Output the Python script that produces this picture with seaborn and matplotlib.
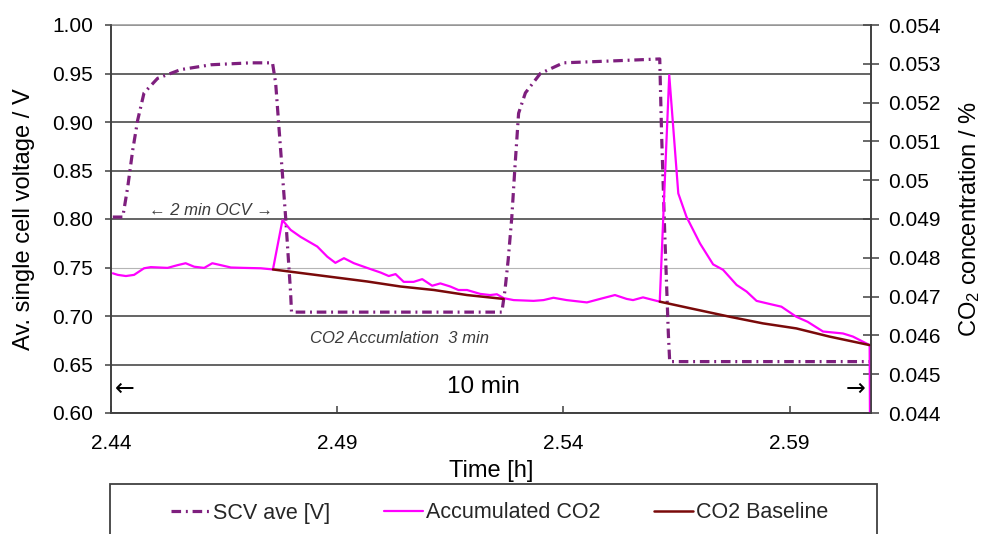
import numpy as np
import pandas as pd
import matplotlib
matplotlib.use("Agg")
import matplotlib.pyplot as plt
import seaborn as sns
from matplotlib.patches import Rectangle
from matplotlib.lines import Line2D

# ---------------- data ----------------
scv_time = [2.4404, 2.4426, 2.4437, 2.4448, 2.4459, 2.4473, 2.4503, 2.4554, 2.4621,
            2.4709, 2.4757, 2.4764, 2.4775, 2.4786, 2.4797, 2.4799, 2.5264, 2.5271,
            2.5278, 2.5286, 2.5293, 2.5301, 2.5316, 2.5349, 2.5400, 2.5510, 2.5613,
            2.5617, 2.5624, 2.5632, 2.5635, 2.6077]
scv_volt = [0.802, 0.802, 0.833, 0.871, 0.902, 0.930, 0.945, 0.954, 0.959,
            0.961, 0.961, 0.940, 0.871, 0.802, 0.724, 0.704, 0.704, 0.727,
            0.758, 0.802, 0.854, 0.909, 0.930, 0.950, 0.961, 0.963, 0.965,
            0.889, 0.786, 0.682, 0.653, 0.653]

co2_time = [2.4404, 2.4415, 2.4433, 2.4451, 2.4473, 2.4488, 2.4525, 2.4547, 2.4565,
            2.4584, 2.4606, 2.4624, 2.4643, 2.4665, 2.4694, 2.4731, 2.4758, 2.4779,
            2.4797, 2.4819, 2.4856, 2.4878, 2.4896, 2.4915, 2.4937, 2.4966, 2.4996,
            2.5014, 2.5029, 2.5047, 2.5069, 2.5088, 2.5110, 2.5128, 2.5150, 2.5168,
            2.5187, 2.5216, 2.5238, 2.5253, 2.5268, 2.5290, 2.5334, 2.5356, 2.5378,
            2.5407, 2.5452, 2.5481, 2.5514, 2.5540, 2.5554, 2.5576, 2.5613, 2.5634,
            2.5654, 2.5672, 2.5702, 2.5731, 2.5753, 2.5783, 2.5805, 2.5827, 2.5856,
            2.5882, 2.5915, 2.5940, 2.5974, 2.6018, 2.6040, 2.6077, 2.6078]
co2_conc = [0.04760, 0.04756, 0.04753, 0.04756, 0.04773, 0.04776, 0.04774, 0.04781, 0.04786,
            0.04777, 0.04774, 0.04786, 0.04781, 0.04775, 0.04774, 0.04773, 0.04770, 0.04897,
            0.04872, 0.04854, 0.04829, 0.04803, 0.04787, 0.04799, 0.04786, 0.04774, 0.04762,
            0.04753, 0.04758, 0.04738, 0.04738, 0.04745, 0.04728, 0.04734, 0.04726, 0.04717,
            0.04717, 0.04707, 0.04704, 0.04706, 0.04696, 0.04691, 0.04689, 0.04691, 0.04697,
            0.04691, 0.04685, 0.04694, 0.04704, 0.04694, 0.04691, 0.04698, 0.04687, 0.05271,
            0.04966, 0.04906, 0.04837, 0.04783, 0.04769, 0.04730, 0.04713, 0.04689, 0.04681,
            0.04674, 0.04648, 0.04635, 0.04610, 0.04605, 0.04597, 0.04575, 0.04300]

base1_time = [2.4758, 2.4966, 2.5040, 2.5114, 2.5187, 2.5268]
base1_conc = [0.04770, 0.04739, 0.04726, 0.04717, 0.04704, 0.04694]
base2_time = [2.5613, 2.5680, 2.5768, 2.5841, 2.5915, 2.5988, 2.6077]
base2_conc = [0.04687, 0.04670, 0.04648, 0.04631, 0.04618, 0.04597, 0.04575]

x_ticks = [2.44, 2.49, 2.54, 2.59]
x_tick_labels = ["2.44", "2.49", "2.54", "2.59"]
left_ticks = [0.60, 0.65, 0.70, 0.75, 0.80, 0.85, 0.90, 0.95, 1.00]
left_tick_labels = ["0.60", "0.65", "0.70", "0.75", "0.80", "0.85", "0.90", "0.95", "1.00"]
right_ticks = [0.044, 0.045, 0.046, 0.047, 0.048, 0.049, 0.050, 0.051, 0.052, 0.053, 0.054]
right_tick_labels = ["0.044", "0.045", "0.046", "0.047", "0.048", "0.049", "0.05",
                     "0.051", "0.052", "0.053", "0.054"]

series_names = ["SCV ave [V]", "Accumulated CO2", "CO2 Baseline"]

# ---------------- style ----------------
sns.set_theme(style="white")
plt.rcParams['font.family'] = ['Liberation Sans', 'DejaVu Sans']
plt.rcParams['mathtext.fontset'] = 'custom'
plt.rcParams['mathtext.rm'] = 'Liberation Sans'
plt.rcParams['mathtext.it'] = 'Liberation Sans:italic'

C_SCV = "#7E1F7E"
C_CO2 = "#FF00FF"
C_BASE = "#7A0A0A"
SPINE = "#404040"

fig = plt.figure(figsize=(9.83, 5.34), dpi=100)
ax = fig.add_axes([111 / 983, 121 / 534, 760 / 983, 388 / 534])
ax2 = ax.twinx()

df_scv = pd.DataFrame({"Time": scv_time, "V": scv_volt})
df_co2 = pd.DataFrame({"Time": co2_time, "C": co2_conc})
df_base = pd.DataFrame({
    "Time": base1_time + base2_time,
    "C": base1_conc + base2_conc,
    "seg": [0] * len(base1_time) + [1] * len(base2_time),
})

sns.lineplot(data=df_scv, x="Time", y="V", ax=ax, color=C_SCV, lw=2.3,
             linestyle=(0, (3.0, 1.5, 0.6, 1.5)), estimator=None, sort=False,
             legend=False, label=series_names[0])
sns.lineplot(data=df_co2, x="Time", y="C", ax=ax2, color=C_CO2, lw=1.6,
             estimator=None, sort=False, legend=False, label=series_names[1])
sns.lineplot(data=df_base, x="Time", y="C", units="seg", ax=ax2, color=C_BASE, lw=1.8,
             estimator=None, sort=False, legend=False)

# ---------------- axes ----------------
ax.set_xlim(2.44, 2.608)
ax.set_ylim(0.60, 1.00)
ax2.set_ylim(0.044, 0.054)

ax.set_xticks(x_ticks, labels=x_tick_labels)
ax.set_yticks(left_ticks, labels=left_tick_labels)
ax2.set_yticks(right_ticks, labels=right_tick_labels)

ax.grid(axis='y', color="#3a3a3a", lw=1.1)
ax.grid(axis='x', visible=False)
ax2.grid(False)
ax.yaxis.get_major_ticks()[3].gridline.set_color("#b5b5b5")
ax.yaxis.get_major_ticks()[3].gridline.set_linewidth(0.8)

for a in (ax, ax2):
    for s in a.spines.values():
        s.set_color(SPINE)
        s.set_linewidth(1.2)
ax.spines['top'].set_color("#a0a0a0")
ax2.spines['top'].set_visible(False)

ax.tick_params(axis='y', left=True, direction='out', length=4, width=1.1,
               color=SPINE, labelsize=15, pad=9, labelcolor='black')
ax.tick_params(axis='x', bottom=True, direction='in', length=5, width=1.1,
               color=SPINE, labelsize=15, pad=15, labelcolor='black')
ax2.tick_params(axis='y', right=True, direction='inout', length=12, width=1.1,
                color=SPINE, labelsize=15, pad=6, labelcolor='black')

ax.set_xlabel("Time [h]", fontsize=17, labelpad=5, color='black')
ax.set_ylabel("Av. single cell voltage / V", fontsize=17, labelpad=12, color='black')
ax2.set_ylabel("CO$_2$ concentration / %", fontsize=17, labelpad=12, color='black')

# ---------------- annotations ----------------
ax.text(0.1316, 0.523, "\u2190 2 min OCV \u2192", transform=ax.transAxes, fontsize=12,
        style='italic', color="#3c3c3c", ha='center', va='center')
ax.text(0.379, 0.193, "CO2 Accumlation  3 min", transform=ax.transAxes, fontsize=12,
        style='italic', color="#3c3c3c", ha='center', va='center')
ax.text(0.4895, 0.066, "10 min", transform=ax.transAxes, fontsize=17.5,
        color='black', ha='center', va='center')
ax.text(0.0184, 0.062, "\u2190", transform=ax.transAxes, fontsize=17,
        color='black', ha='center', va='center', family=['DejaVu Sans'])
ax.text(0.979, 0.062, "\u2192", transform=ax.transAxes, fontsize=17,
        color='black', ha='center', va='center', family=['DejaVu Sans'])

# ---------------- legend ----------------
h1, l1 = ax.get_legend_handles_labels()
h2, l2 = ax2.get_legend_handles_labels()
handles = [h1[0], h2[0], Line2D([], [], color=C_BASE, lw=1.8)]
fig.legend(handles, series_names, loc='center', bbox_to_anchor=(500 / 983, 1 - 513 / 534),
           ncol=3, frameon=False, fontsize=15.5, handlelength=1.8, handletextpad=0.15,
           columnspacing=2.5)
fig.patches.append(Rectangle((110 / 983, -0.05), 767 / 983, 0.05 + 50 / 534,
                             transform=fig.transFigure, fill=False, edgecolor=SPINE,
                             lw=1.3, figure=fig))

fig.savefig("out.png", dpi=100)
